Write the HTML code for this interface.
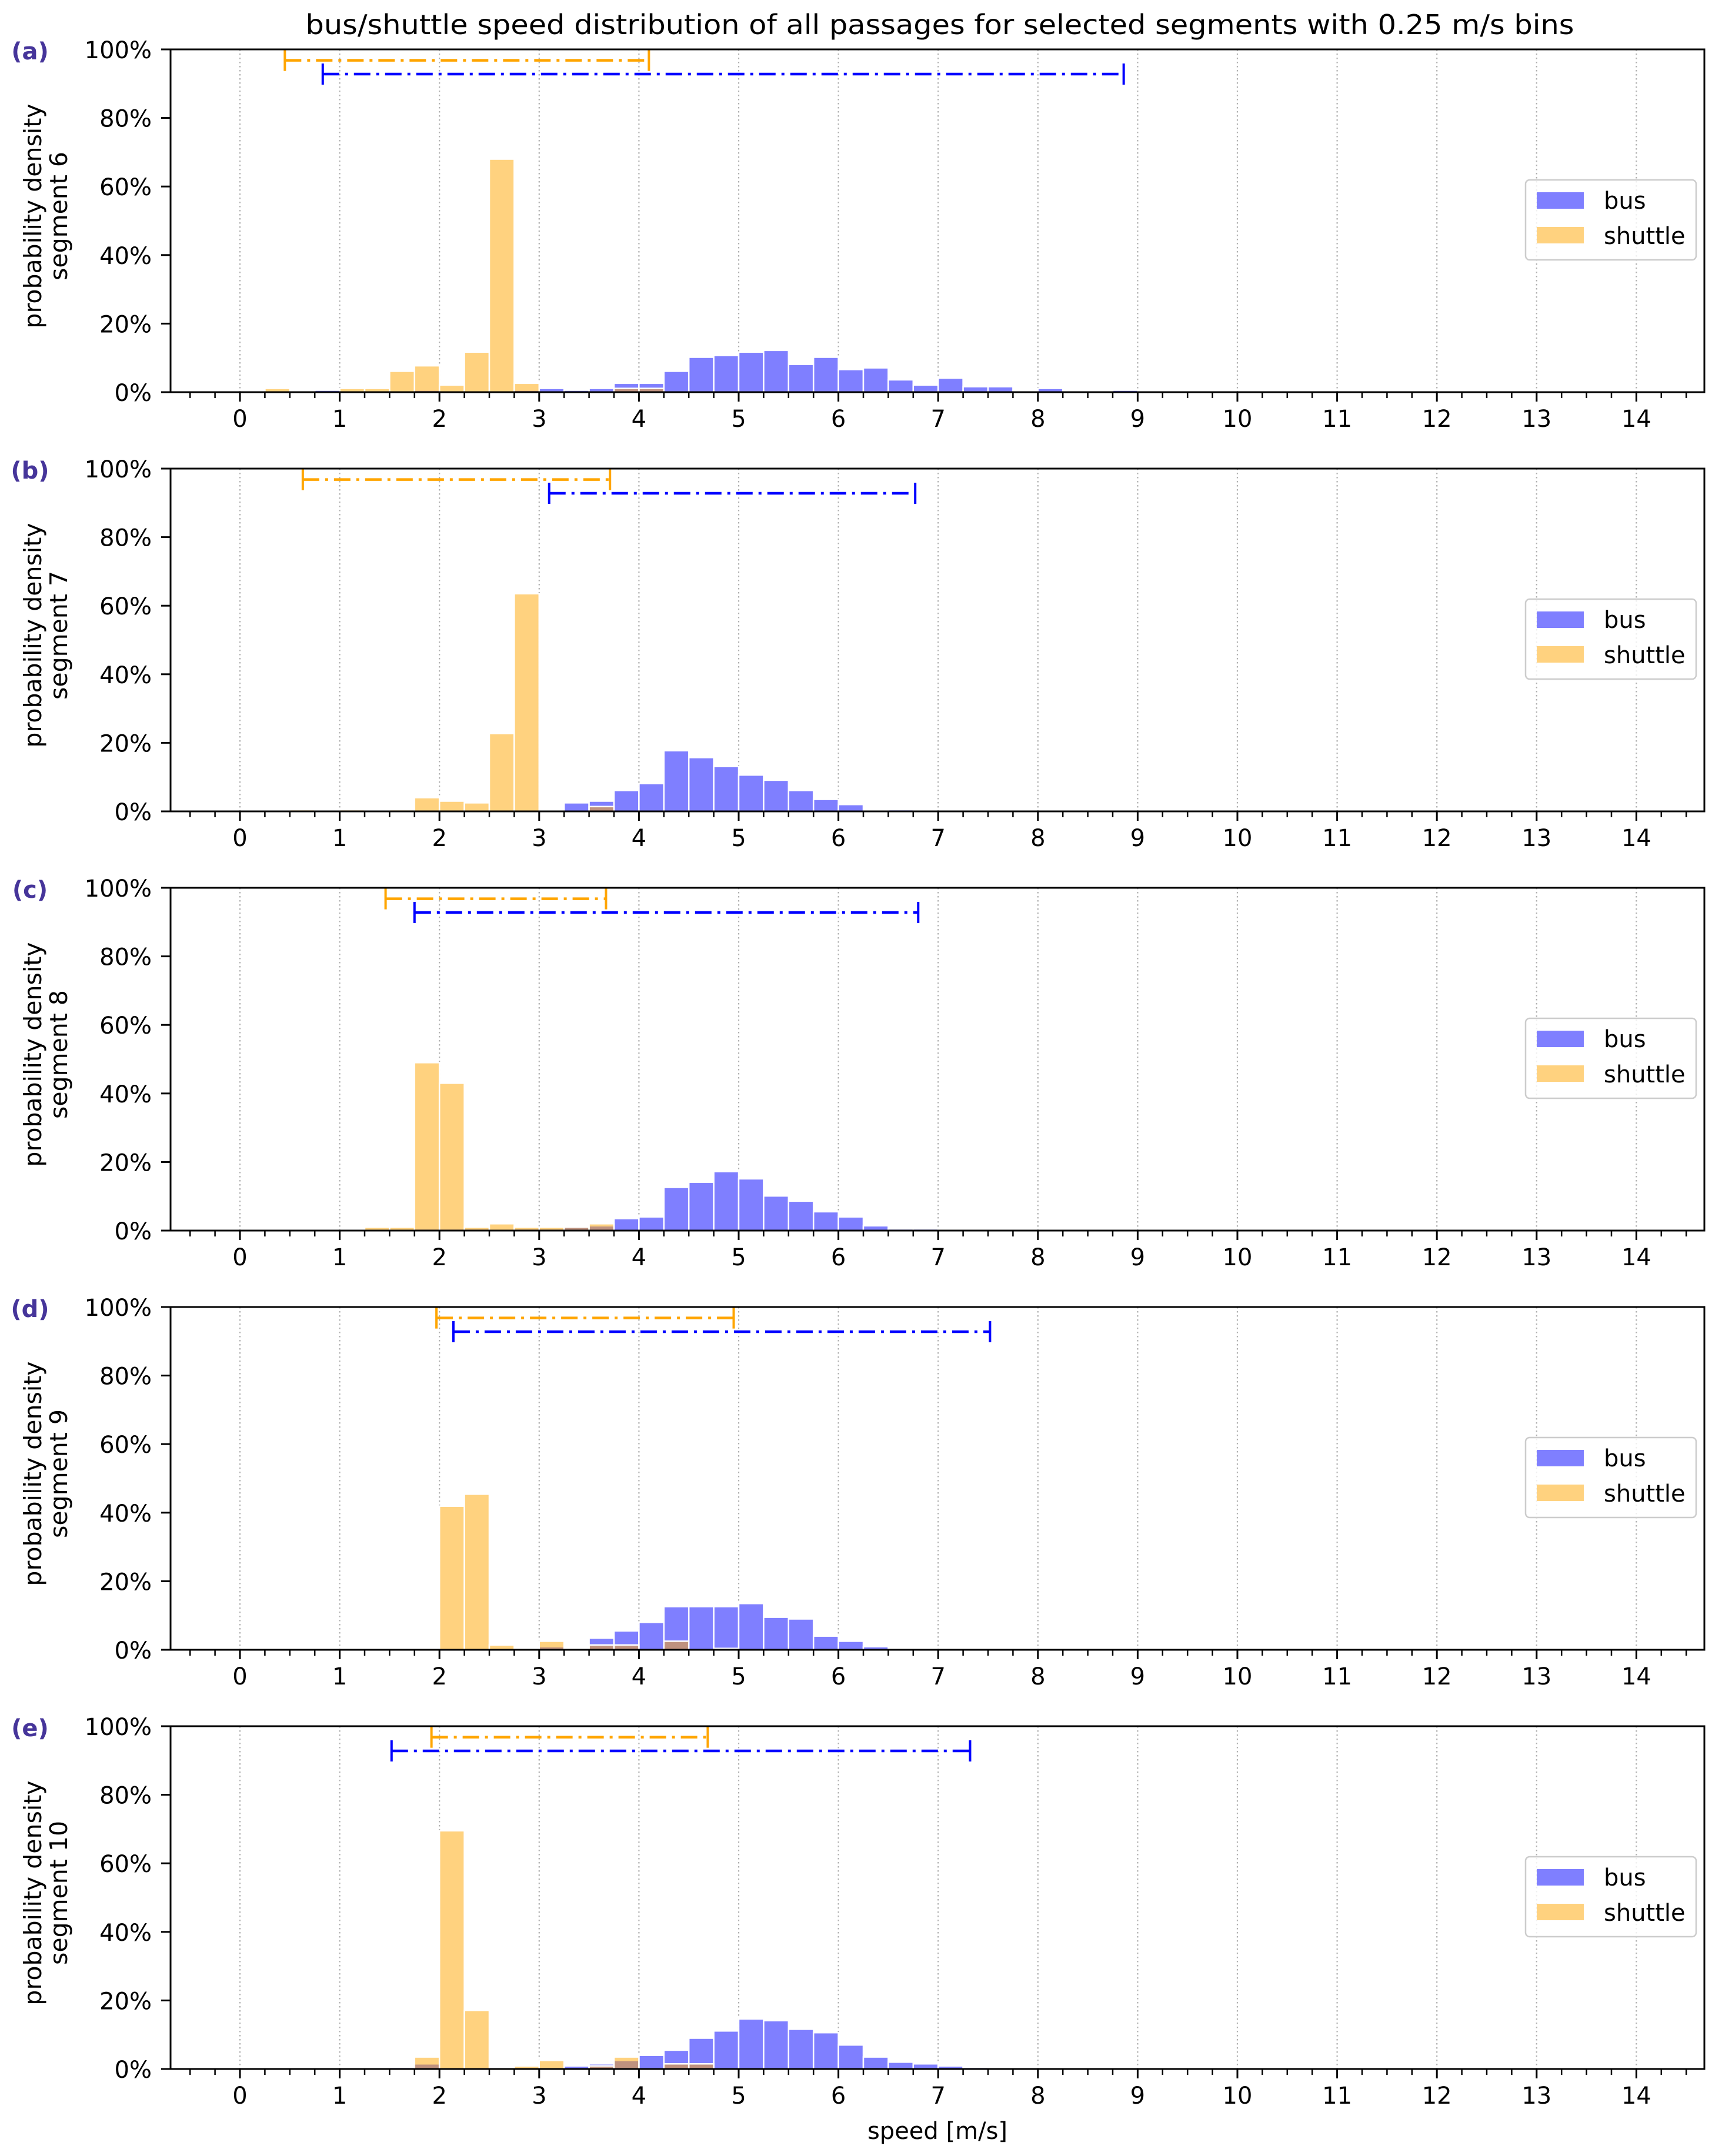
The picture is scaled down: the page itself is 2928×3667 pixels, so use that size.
<!DOCTYPE html>
<html><head><meta charset="utf-8"><style>
html,body{margin:0;padding:0;background:#fff;}
svg text{font-family:"DejaVu Sans","Liberation Sans",sans-serif;}
</style></head><body>
<svg id="fig" xmlns="http://www.w3.org/2000/svg" width="2928" height="3662" viewBox="0 0 2928 3662">
<rect width="2928" height="3662" fill="#fff"/>
<text x="1598" y="58" font-size="46" text-anchor="middle" textLength="2157" lengthAdjust="spacingAndGlyphs" fill="#000">bus/shuttle speed distribution of all passages for selected segments with 0.25 m/s bins</text>
<text x="1594" y="3638" font-size="40" text-anchor="middle" fill="#000">speed [m/s]</text>
</svg>
<script>
// bin starts at i*0.25 m/s, values in percent
const panelLabels = ["(a)","(b)","(c)","(d)","(e)"];
const segmentNames = ["segment 6","segment 7","segment 8","segment 9","segment 10"];
const xTickLabels = ["0","1","2","3","4","5","6","7","8","9","10","11","12","13","14"];
const yTickLabels = ["0%","20%","40%","60%","80%","100%"];
const yTickValues = [0,20,40,60,80,100];
const aShuttle = [0,1.1,0,0,1.1,1.1,6.1,7.7,2.1,11.7,68,2.6,0,0,0,1.1,1.1];
const aBus = [0,0,0,0.6,0,0,0,0.6,0,0,0,0.6,1.1,0.6,1.1,2.6,2.6,6.1,10.2,10.7,11.7,12.2,8.1,10.2,6.6,7.1,3.6,2.1,4.1,1.6,1.6,0,1.1,0,0,0.6];
const bShuttle = [0,0,0.5,0,0.5,0,0.5,4.0,3.0,2.5,22.7,63.5,0,0,1.4];
const bBus = [0,0,0,0,0,0,0,0,0,0,0,0,0,2.5,3.0,6.1,8.1,17.7,15.7,13.1,10.6,9.1,6.1,3.5,2.0,0,0.5];
const cShuttle = [0,0,0,0,0,1.0,1.0,49,43,1.0,2.0,1.0,1.0,1.0,2.0];
const cBus = [0,0,0,0,0,0,0,0.5,0.5,0.5,0,0.5,0.5,1.4,1.4,3.5,4.0,12.6,14.1,17.2,15.1,10.1,8.6,5.5,4.0,1.4,0.5,0.5];
const dShuttle = [0,0,0,0,0,0,0,0.4,41.9,45.4,1.4,0,2.5,0.4,1.4,1.4,0,2.5,0,0.4];
const dBus = [0,0,0,0,0,0,0,0,0,0,0,0.4,0.9,0,3.4,5.5,8.0,12.6,12.6,12.6,13.5,9.5,9.0,4.0,2.5,0.9];
const eShuttle = [0,0,0,0,0,0,0,3.5,69.5,17.1,0,0.9,2.5,0,0.9,3.5,0,1.5,1.5];
const eBus = [0,0,0,0,0,0,0.5,1.5,0,0,0,0,0,0.9,1.5,2.5,4.0,5.5,9.0,11.1,14.6,14.1,11.6,10.6,7.0,3.5,2.0,1.5,0.9,0.5];
const shuttleRange = [[0.45,4.10],[0.63,3.71],[1.46,3.67],[1.97,4.95],[1.92,4.69]];
const busRange = [[0.83,8.86],[3.10,6.77],[1.75,6.80],[2.14,7.52],[1.52,7.32]];
const shuttleRangeY = 96.8;
const busRangeY = 92.8;

const busSeries = [aBus,bBus,cBus,dBus,eBus];
const shuttleSeries = [aShuttle,bShuttle,cShuttle,dShuttle,eShuttle];
const BIN = 0.25;
const svg = document.getElementById('fig');
const NS = 'http://www.w3.org/2000/svg';
const LEFT = 290, RIGHT = 2898, H = 583;
const TOPS = [84,797,1510,2223,2936];
function X(v){ return 408 + v*169.6; }
function mk(tag, attrs, parent){ const e=document.createElementNS(NS,tag); for(const k in attrs) e.setAttribute(k,attrs[k]); (parent||svg).appendChild(e); return e; }

TOPS.forEach((top,p)=>{
  const bot = top+H;
  const Y = v => bot - v/100*H;
  const g = mk('g',{});
  
  
  for(let k=0;k<=14;k++){
    const l = mk('line',{x1:X(k),x2:X(k),y1:top,y2:bot,stroke:'#b0b0b0','stroke-width':2.2,'stroke-dasharray':'2.5 4.5'},g);
    
    
  }
  busSeries[p].forEach((v,i)=>{
    if(!v) return;
    const r = mk('rect',{x:X(i*BIN),y:Y(v),width:X(BIN)-X(0),height:bot-Y(v),fill:'#0000ff','fill-opacity':0.5,stroke:'#fff','stroke-width':2.5},g);
    
    
  });
  shuttleSeries[p].forEach((v,i)=>{
    if(!v) return;
    const r = mk('rect',{x:X(i*BIN),y:Y(v),width:X(BIN)-X(0),height:bot-Y(v),fill:'#ffa500','fill-opacity':0.5,stroke:'#fff','stroke-width':2.5},g);
    
    
  });
  [[shuttleRange[p],shuttleRangeY,'#ffa500','shuttle-range'],[busRange[p],busRangeY,'#0000ff','bus-range']].forEach(([rg,yv,col,nm])=>{
    const y = Y(yv);
    const ln = mk('line',{x1:X(rg[0]),x2:X(rg[1]),y1:y,y2:y,stroke:col,'stroke-width':4.5,'stroke-dasharray':'28 10 5 10'},g);
    
    
    [rg[0],rg[1]].forEach(v=>{
      const c = mk('line',{x1:X(v),x2:X(v),y1:y-18,y2:y+18,stroke:col,'stroke-width':4},g);
      
      
    });
  });
  const fr = mk('rect',{x:LEFT,y:top,width:RIGHT-LEFT,height:H,fill:'none',stroke:'#000','stroke-width':3},g);
  
  
  for(let q=-2;q<=58;q++){
    const v=q*BIN; const x=X(v);
    if(x<LEFT||x>RIGHT) continue;
    const major = q%4===0;
    mk('line',{x1:x,x2:x,y1:bot,y2:bot+(major?16:10),stroke:'#000','stroke-width':major?3:2.5},g);
  }
  xTickLabels.forEach((t,k)=>{
    const tx = mk('text',{x:X(k),y:bot+59,'font-size':40,'text-anchor':'middle',fill:'#000'},g);
    tx.textContent=t;
    
    
  });
  yTickValues.forEach((v,k)=>{
    mk('line',{x1:LEFT-16,x2:LEFT,y1:Y(v),y2:Y(v),stroke:'#000','stroke-width':3},g);
    const tx = mk('text',{x:258,y:Y(v)+15,'font-size':40,'text-anchor':'end',fill:'#000'},g);
    tx.textContent=yTickLabels[k];
    
    
  });
  const pl = mk('text',{x:51,y:top+17,'font-size':40,'font-weight':'bold','text-anchor':'middle',fill:'#46359a'},g);
  pl.textContent = panelLabels[p];
  
  
  const cy = top+H/2;
  const yl = mk('text',{x:0,y:0,'font-size':41,'text-anchor':'middle',fill:'#000',transform:`translate(70,${cy-8}) rotate(-90)`},g);
  yl.textContent='probability density';
  
  
  const yl2 = mk('text',{x:0,y:0,'font-size':41,'text-anchor':'middle',fill:'#000',transform:`translate(114,${cy-8}) rotate(-90)`},g);
  yl2.textContent=segmentNames[p];
  
  
  const lg = mk('g',{},g);
  
  
  mk('rect',{x:2594,y:top+222,width:290,height:136,rx:7,fill:'#fff','fill-opacity':0.8,stroke:'#cccccc','stroke-width':2.5},lg);
  const p1 = mk('rect',{x:2613,y:top+243,width:80,height:28,fill:'#0000ff','fill-opacity':0.5},lg);
  
  
  const t1 = mk('text',{x:2727,y:top+271,'font-size':40,fill:'#000'},lg);
  t1.textContent='bus';
  
  
  const p2 = mk('rect',{x:2613,y:top+302,width:80,height:28,fill:'#ffa500','fill-opacity':0.5},lg);
  
  
  const t2 = mk('text',{x:2727,y:top+331,'font-size':40,fill:'#000'},lg);
  t2.textContent='shuttle';
  
  
});
</script>
</body></html>
